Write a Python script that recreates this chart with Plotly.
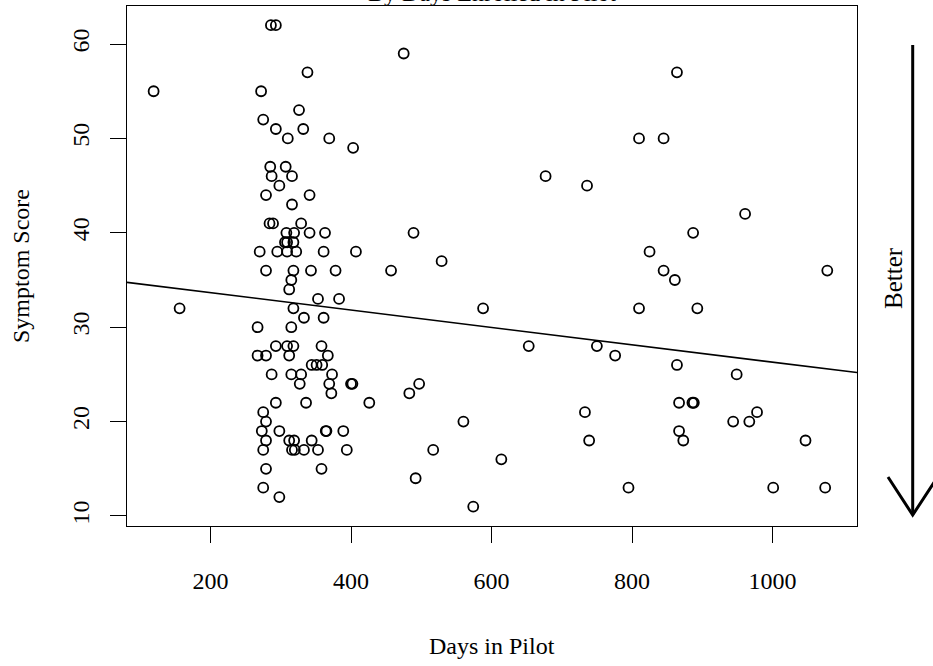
import plotly.graph_objects as go

# Data (days in pilot, symptom score)
days = [286, 293, 338, 119, 272, 326, 275, 293, 332, 310, 369, 403,
        285, 307, 287, 316, 298, 279, 341, 316, 284, 289, 329,
        308, 319, 341, 363, 306, 309, 318, 270, 295, 309, 322, 361,
        279, 318, 343, 378, 315, 312, 353, 383, 156, 318, 333, 361,
        267, 315, 293, 309, 318, 358, 267, 279, 312, 367, 344, 351, 359,
        287, 315, 329, 373, 327, 369, 400, 402, 372, 293, 336, 275, 279,
        273, 298, 364, 365, 389, 279, 312, 319, 344, 275, 316, 320, 333,
        353, 394, 279, 358, 275, 298,
        475, 677, 736, 489, 407, 457, 529, 588, 653, 750, 776, 426, 497,
        483, 560, 733, 739, 517, 614, 492, 574, 795,
        864, 810, 845, 961, 887, 825, 845, 1078, 861, 810, 893, 864, 949,
        867, 886, 888, 978, 944, 967, 867, 873, 1047, 1001, 1075]
scores = [62, 62, 57, 55, 55, 53, 52, 51, 51, 50, 50, 49,
          47, 47, 46, 46, 45, 44, 44, 43, 41, 41, 41,
          40, 40, 40, 40, 39, 39, 39, 38, 38, 38, 38, 38,
          36, 36, 36, 36, 35, 34, 33, 33, 32, 32, 31, 31,
          30, 30, 28, 28, 28, 28, 27, 27, 27, 27, 26, 26, 26,
          25, 25, 25, 25, 24, 24, 24, 24, 23, 22, 22, 21, 20,
          19, 19, 19, 19, 19, 18, 18, 18, 18, 17, 17, 17, 17,
          17, 17, 15, 15, 13, 12,
          59, 46, 45, 40, 38, 36, 37, 32, 28, 28, 27, 22, 24,
          23, 20, 21, 18, 17, 16, 14, 11, 13,
          57, 50, 50, 42, 40, 38, 36, 36, 35, 32, 32, 26, 25,
          22, 22, 22, 21, 20, 20, 19, 18, 18, 13, 13]

# Fitted line
fit_intercept = 35.5
fit_slope = -0.0092

x_ticks = [200, 400, 600, 800, 1000]
y_ticks = [10, 20, 30, 40, 50, 60]

x_range = [81.1, 1120.3]
y_range = [8.94, 64.03]

FONT = "Liberation Serif"
FS = 24

fig = go.Figure()
fig.add_trace(go.Scatter(
    x=days, y=scores, mode="markers",
    marker=dict(symbol="circle-open", size=10, color="black",
                line=dict(width=1.8, color="black")),
    hoverinfo="x+y", showlegend=False))

fig.add_trace(go.Scatter(
    x=x_range, y=[fit_intercept + fit_slope * v for v in x_range],
    mode="lines", line=dict(color="black", width=1.6),
    showlegend=False, hoverinfo="skip"))

W, H = 933, 666
L, R, T, B = 127, 76, 6, 140
pw, ph = W - L - R, H - T - B

def px(xp):
    return (xp - L) / pw

def py(yp):
    return (H - B - yp) / ph

axis_common = dict(showline=True, linecolor="black", linewidth=1.3, mirror=True,
                   ticks="outside", ticklen=16, tickwidth=1.3, tickcolor="black",
                   showgrid=False, zeroline=False,
                   tickfont=dict(family=FONT, size=FS, color="black"))

fig.update_xaxes(range=x_range, tickvals=x_ticks, ticktext=[str(v) for v in x_ticks],
                 ticklabelstandoff=17, **axis_common)
fig.update_yaxes(range=y_range, tickvals=y_ticks, ticktext=[str(v) for v in y_ticks],
                 tickangle=-90, ticklabelstandoff=11, **axis_common)

annotations = [
    dict(text="By Days Enrolled in Pilot", x=0.5, y=py(8), xref="paper", yref="paper",
         xanchor="center", yanchor="bottom", showarrow=False,
         font=dict(family=FONT, size=24, color="black")),
    dict(text="Days in Pilot", x=0.5, y=py(646), xref="paper", yref="paper",
         xanchor="center", yanchor="middle", showarrow=False,
         font=dict(family=FONT, size=FS, color="black")),
    dict(text="Symptom Score", x=px(21), y=0.5, xref="paper", yref="paper",
         xanchor="center", yanchor="middle", textangle=-90, showarrow=False,
         font=dict(family=FONT, size=FS, color="black")),
    dict(text="Better", x=px(894), y=py(278), xref="paper", yref="paper",
         xanchor="center", yanchor="middle", textangle=-90, showarrow=False,
         font=dict(family=FONT, size=FS + 1, color="black")),
]

shapes = [
    dict(type="line", xref="paper", yref="paper", x0=px(912.7), x1=px(912.7),
         y0=py(45), y1=py(515), line=dict(color="black", width=3)),
    dict(type="path", xref="paper", yref="paper",
         path=f"M {px(888)},{py(477)} L {px(912.7)},{py(515)} L {px(937.5)},{py(477)}",
         line=dict(color="black", width=3)),
]

fig.update_layout(
    width=W, height=H, margin=dict(l=L, r=R, t=T, b=B, autoexpand=False),
    plot_bgcolor="white", paper_bgcolor="white",
    font=dict(family=FONT, size=FS, color="black"),
    annotations=annotations, shapes=shapes, showlegend=False)

fig.write_html("out.html")
